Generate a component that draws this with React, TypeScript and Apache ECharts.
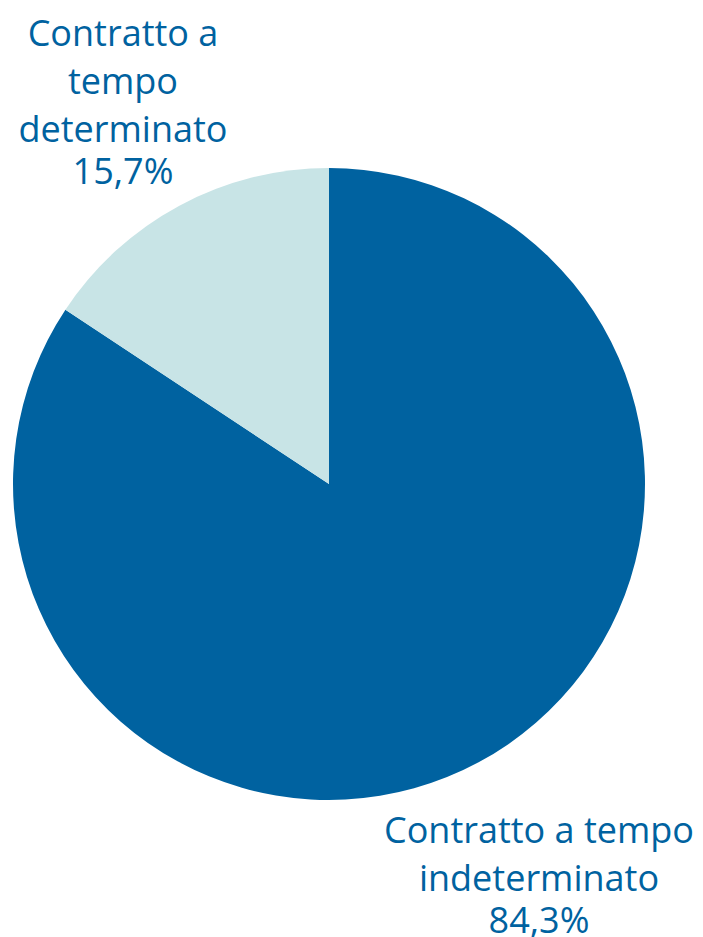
import React, { useEffect, useRef } from "react";
import * as echarts from "echarts";

const categories = ["Contratto a tempo indeterminato", "Contratto a tempo determinato"];
const values = [84.3, 15.7];
const labelNames = ["Contratto a tempo\nindeterminato", "Contratto a\ntempo\ndeterminato"];
const colors = ["#0062A0", "#C8E4E6"];
const textColor = "#0062A0";

export default function App() {
  const ref = useRef<HTMLDivElement>(null);
  useEffect(() => {
    if (!ref.current) return;
    const chart = echarts.init(ref.current, null, { renderer: "svg" });
    const labelPos = [
      { x: 539, y: 805 },
      { x: 123, y: 8 },
    ];
    chart.setOption({
      animation: false,
      backgroundColor: "#ffffff",
      series: [
        {
          type: "pie",
          center: [329, 484],
          radius: [0, 316],
          startAngle: 90,
          clockwise: true,
          avoidLabelOverlap: false,
          data: categories.map((c, i) => ({
            name: c,
            value: values[i],
            itemStyle: { color: colors[i] },
          })),
          label: {
            show: true,
            formatter: (p: any) => {
              const n = labelNames[p.dataIndex];
              const pct = values[p.dataIndex].toFixed(1).replace(".", ",") + "%";
              return n.split("\n").map((l) => `{n|${l}}`).join("\n") + `\n{p|${pct}}`;
            },
            color: textColor,
            align: "center",
            rich: {
              n: { fontFamily: "Open Sans", fontSize: 36, lineHeight: 48, color: textColor, align: "center" },
              p: { fontFamily: "Open Sans", fontSize: 36, lineHeight: 36, color: textColor, align: "center" },
            },
          },
          labelLine: { show: false },
          labelLayout: (params: any) => {
            const pos = labelPos[params.dataIndex];
            return { x: pos.x, y: pos.y, align: "center", verticalAlign: "top" };
          },
          emphasis: { disabled: true },
        },
      ],
    });
    return () => chart.dispose();
  }, []);
  return (
    <div
      ref={ref}
      style={{ position: "fixed", left: 0, top: 0, width: 703, height: 937, background: "#fff" }}
    />
  );
}
